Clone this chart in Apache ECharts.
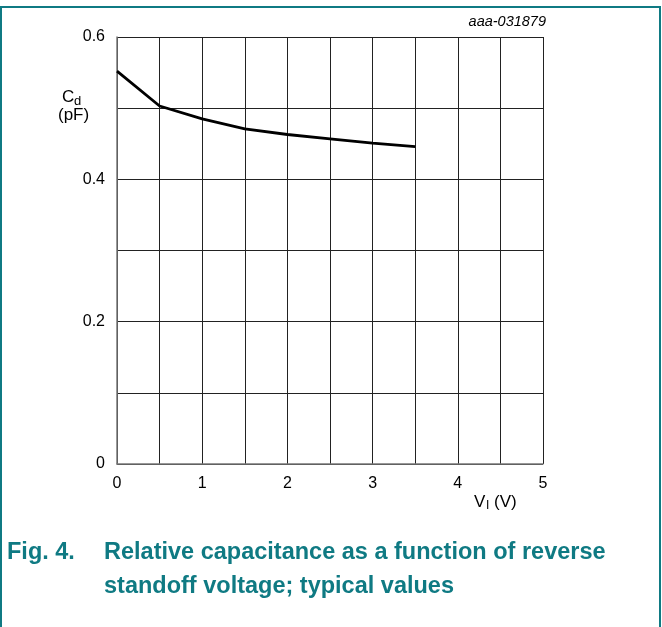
<!DOCTYPE html>
<html>
<head>
<meta charset="utf-8">
<script src="https://cdn.jsdelivr.net/npm/echarts@6/dist/echarts.min.js"></script>
<style>
  html, body { margin: 0; padding: 0; background: #fff; }
  #chart { width: 662px; height: 627px; }
</style>
</head>
<body>
<div id="chart"></div>
<script>
// reverse standoff voltage (V) vs diode capacitance (pF)
const voltage = [0, 0.5, 1.0, 1.5, 2.0, 2.5, 3.0, 3.5];
const capacitance = [0.552, 0.503, 0.485, 0.471, 0.463, 0.457, 0.451, 0.446];

const xTicksShown = [0, 1, 2, 3, 4, 5];
const yTicksShown = [0, 0.2, 0.4, 0.6];

const TEAL = "#0f7a83";
const FONT = '"Liberation Sans", Arial, sans-serif';

const chart = echarts.init(document.getElementById("chart"), null, { renderer: "canvas" });

chart.setOption({
  animation: false,
  textStyle: { fontFamily: FONT },
  grid: { left: 117, right: 119, top: 37, bottom: 163 },
  xAxis: {
    type: "value",
    min: 0,
    max: 5,
    interval: 0.5,
    axisLine: { show: true, lineStyle: { color: "#777", width: 1.5 } },
    axisTick: { show: false },
    axisLabel: {
      color: "#000",
      fontSize: 16,
      margin: 12,
      formatter: (v) => (xTicksShown.some((t) => Math.abs(t - v) < 1e-6) ? String(v) : ""),
    },
    splitLine: { show: true, lineStyle: { color: "#222", width: 1 } },
  },
  yAxis: {
    type: "value",
    min: 0,
    max: 0.6,
    interval: 0.1,
    axisLine: { show: true, lineStyle: { color: "#777", width: 1.5 } },
    axisTick: { show: false },
    axisLabel: {
      color: "#000",
      fontSize: 16,
      margin: 12,
      formatter: (v) => {
        const t = yTicksShown.find((y) => Math.abs(y - v) < 1e-6);
        return t === undefined ? "" : String(t);
      },
    },
    splitLine: { show: true, lineStyle: { color: "#222", width: 1 } },
  },
  series: [
    {
      type: "line",
      data: voltage.map((v, i) => [v, capacitance[i]]),
      showSymbol: false,
      smooth: false,
      lineStyle: { color: "#000", width: 2.8 },
      z: 5,
    },
  ],
  graphic: [
    // frame
    {
      type: "polyline",
      shape: { points: [[1, 627], [1, 7], [660, 7], [660, 627]] },
      style: { stroke: TEAL, lineWidth: 2, fill: null },
    },
    {
      type: "text",
      right: 116,
      top: 14,
      style: { text: "aaa-031879", font: "italic 14.5px " + FONT, fill: "#000" },
    },
    // y axis name
    { type: "text", x: 62, y: 89, style: { text: "C", font: "17px " + FONT, fill: "#000" } },
    { type: "text", x: 74, y: 95, style: { text: "d", font: "13px " + FONT, fill: "#000" } },
    { type: "text", x: 58, y: 107, style: { text: "(pF)", font: "17px " + FONT, fill: "#000" } },
    // x axis name
    { type: "text", x: 474, y: 494, style: { text: "V", font: "17px " + FONT, fill: "#000" } },
    { type: "text", x: 486, y: 500, style: { text: "I", font: "12px " + FONT, fill: "#000" } },
    { type: "text", x: 494, y: 494, style: { text: "(V)", font: "17px " + FONT, fill: "#000" } },
    // caption
    {
      type: "text",
      x: 7,
      y: 536,
      style: { text: "Fig. 4.", font: "bold 23.5px " + FONT, lineHeight: 34, fill: TEAL },
    },
    {
      type: "text",
      x: 104,
      y: 536,
      style: {
        text: "Relative capacitance as a function of reverse\nstandoff voltage; typical values",
        font: "bold 23.5px " + FONT,
        lineHeight: 34,
        fill: TEAL,
      },
    },
  ],
});
</script>
</body>
</html>
